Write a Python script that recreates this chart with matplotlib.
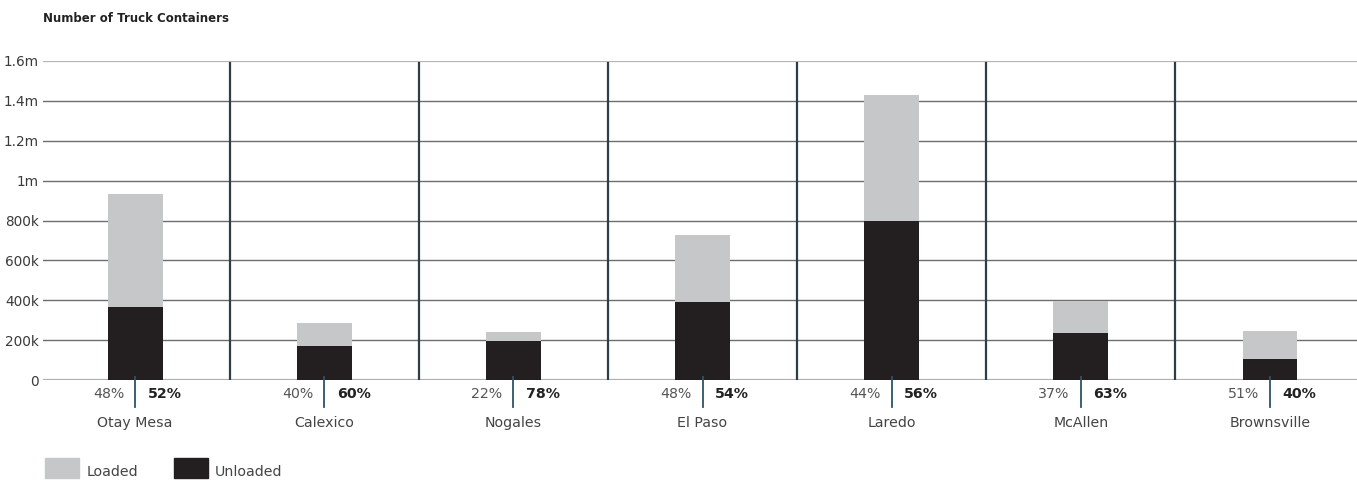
import matplotlib
matplotlib.use("Agg")
from matplotlib import pyplot as plt
from matplotlib.patches import Rectangle

plt.rcParams['font.family'] = ['Liberation Sans Narrow', 'DejaVu Sans']

crossings = ["Otay Mesa", "Calexico", "Nogales", "El Paso", "Laredo", "McAllen", "Brownsville"]
total = [935000, 285000, 240000, 725000, 1430000, 395000, 245000]
unloaded = [365000, 170000, 195000, 390000, 800000, 235000, 105000]
loaded = [t - u for t, u in zip(total, unloaded)]
pct_loaded = ["48%", "40%", "22%", "48%", "44%", "37%", "51%"]
pct_unloaded = ["52%", "60%", "78%", "54%", "56%", "63%", "40%"]
yticks = [0, 200000, 400000, 600000, 800000, 1000000, 1200000, 1400000, 1600000]
ytick_labels = ["0", "200k", "400k", "600k", "800k", "1m", "1.2m", "1.4m", "1.6m"]

grey = "#c6c7c9"
black = "#231f20"
slate = "#2c3e48"

fig = plt.figure(figsize=(13.57, 4.8), dpi=100)
ax = fig.add_axes([43 / 1357, 1 - 380 / 480, 1 - 43 / 1357, 319 / 480])

x = list(range(len(crossings)))
w = 0.29
ax.bar(x, unloaded, width=w, color=black, zorder=3)
ax.bar(x, loaded, width=w, bottom=unloaded, color=grey, zorder=3)

# grid lines
for t in yticks[1:-1]:
    ax.axhline(t, color="#6e6e6e", lw=1.0, zorder=1)
ax.axhline(0, color="#b0b0b0", lw=1.6, zorder=2)
ax.axhline(1600000, color="#b5b5b5", lw=1.6, zorder=2)

# dividers between crossings
for i in range(len(crossings) - 1):
    ax.axvline(i + 0.5, ymin=0, ymax=0.995, color=slate, lw=1.6, zorder=2)

ax.set_xlim(-0.487, 6.46)
ax.set_ylim(0, 1600000)
ax.set_yticks(yticks)
ax.set_yticklabels(ytick_labels, fontsize=9.8, color="#3a3a3a")
ax.tick_params(axis="y", length=0, pad=3)
ax.set_xticks([])
for s in ax.spines.values():
    s.set_visible(False)

trans = ax.get_xaxis_transform()
for i, name in enumerate(crossings):
    ax.plot([i, i], [0.009, -0.085], transform=trans, color="#2d5466", lw=1.3, clip_on=False, zorder=4)
    ax.annotate(pct_loaded[i], (i, -0.043), xycoords=trans, xytext=(-8, 0), textcoords="offset points",
                ha="right", va="center", fontsize=10.2, color="#555555")
    ax.annotate(pct_unloaded[i], (i, -0.043), xycoords=trans, xytext=(9, 0), textcoords="offset points",
                ha="left", va="center", fontsize=10.2, color="#222222", fontweight="bold")
    ax.text(i, -0.135, name, transform=trans, ha="center", va="center", fontsize=10.2, color="#444444")

fig.text(43 / 1357, 1 - 18 / 480, "Number of Truck Containers", ha="left", va="center",
         fontsize=8.5, fontweight="bold", color="#222222")

# legend
fig.patches.append(Rectangle((45 / 1357, 1 - 478 / 480), 34 / 1357, 20 / 480,
                             transform=fig.transFigure, color=grey))
fig.text(87 / 1357, 1 - 472 / 480, "Loaded", ha="left", va="center", fontsize=10.2, color="#444444")
fig.patches.append(Rectangle((174 / 1357, 1 - 478 / 480), 34 / 1357, 20 / 480,
                             transform=fig.transFigure, color=black))
fig.text(215 / 1357, 1 - 472 / 480, "Unloaded", ha="left", va="center", fontsize=10.2, color="#444444")

fig.savefig("out.png", dpi=100)
